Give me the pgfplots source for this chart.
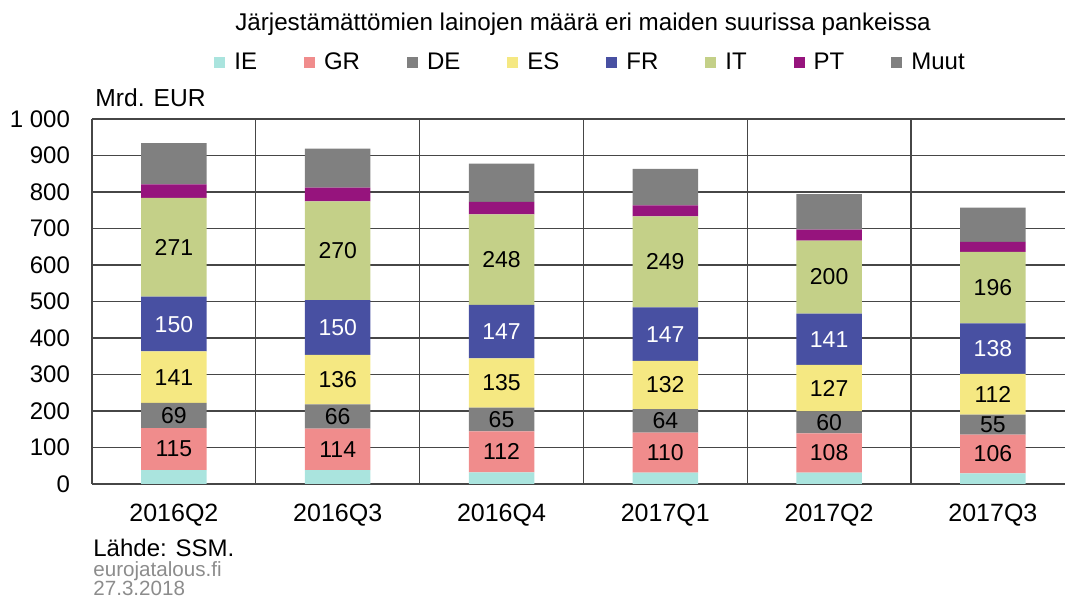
\documentclass[border=0pt]{standalone}
\usepackage{pgfplots}
\pgfplotsset{compat=1.18}
\usepackage{pgfplotstable}
\usepackage{fontspec}
\setmainfont{Liberation Sans}
\definecolor{cIE}{RGB}{170,228,222}
\definecolor{cGR}{RGB}{240,140,140}
\definecolor{cDE}{RGB}{128,128,128}
\definecolor{cES}{RGB}{245,232,130}
\definecolor{cFR}{RGB}{72,80,162}
\definecolor{cIT}{RGB}{196,208,136}
\definecolor{cPT}{RGB}{150,20,125}
\definecolor{cMuut}{RGB}{128,128,128}
\definecolor{gridc}{RGB}{70,70,70}
\pgfplotstableread{
x IE GR DE ES FR IT PT Muut
0 38 115 69 141 150 271 37 113
1 38 114 66 136 150 270 38 107
2 32 112 65 135 147 248 34 105
3 31 110 64 132 147 249 30 100
4 31 108 60 127 141 200 30 97
5 29 106 55 112 138 196 27 94
}\datatable
% label positions (segment centres) for the value labels
\pgfplotstableread{
x y lab
0 95.5 115
0 187.5 69
0 292.5 141
0 648.5 271
1 95 114
1 185 66
1 286 136
1 639 270
2 88 112
2 176.5 65
2 276.5 135
2 615 248
3 86 110
3 173 64
3 271 132
3 608.5 249
4 85 108
4 169 60
4 262.5 127
4 567 200
5 82 106
5 162.5 55
5 246 112
5 538 196
}\blacklabels
\pgfplotstableread{
x y lab
0 438 150
1 429 150
2 417.5 147
3 410.5 147
4 396.5 141
5 371 138
}\whitelabels
\pgfplotsset{
  sq/.style={legend image code/.code={\fill[##1,draw=none] (0pt,-2.75pt) rectangle (5.5pt,2.75pt); \path (8pt,0pt);}},
  common/.style={
    at={(46pt,56.5pt)}, anchor=south west,
    width=486.5pt, height=182.5pt, scale only axis,
    xmin=-0.5, xmax=5.44, ymin=0, ymax=1000,
  }
}
\begin{document}
\begin{tikzpicture}
\useasboundingbox (0,0) rectangle (532.5pt,298.5pt);
\begin{axis}[
  common,
  ybar stacked, bar width=0.4,
  ytick={0,100,...,1000},
  xtick={0,1,2,3,4,5},
  xticklabels={2016Q2,2016Q3,2016Q4,2017Q1,2017Q2,2017Q3},
  minor xtick={0.5,1.5,2.5,3.5,4.5},
  xminorgrids, ymajorgrids,
  major grid style={draw=gridc, line width=0.6pt},
  minor grid style={draw=gridc, line width=0.6pt},
  axis lines*=left,
  axis line style={draw=gridc, line width=0.7pt},
  major tick length=0pt, minor tick length=0pt,
  /pgf/number format/assume math mode=true,
  /pgf/number format/1000 sep={\ },
  yticklabel style={font=\fontsize{12}{14}\selectfont, xshift=-7.5pt},
  xticklabel style={font=\fontsize{12.5}{15}\selectfont, yshift=-6.5pt},
  legend columns=8,
  legend style={at={(0.5134,1.155)}, anchor=center, draw=none, fill=none,
    font=\fontsize{12}{14}\selectfont,
    /tikz/every even column/.append style={column sep=21.5pt}},
]
\addplot[fill=cIE, draw=none, sq] table[x=x, y=IE] {\datatable};
\addlegendentry{IE}
\addplot[fill=cGR, draw=none, sq] table[x=x, y=GR] {\datatable};
\addlegendentry{GR}
\addplot[fill=cDE, draw=none, sq] table[x=x, y=DE] {\datatable};
\addlegendentry{DE}
\addplot[fill=cES, draw=none, sq] table[x=x, y=ES] {\datatable};
\addlegendentry{ES}
\addplot[fill=cFR, draw=none, sq] table[x=x, y=FR] {\datatable};
\addlegendentry{FR}
\addplot[fill=cIT, draw=none, sq] table[x=x, y=IT] {\datatable};
\addlegendentry{IT}
\addplot[fill=cPT, draw=none, sq] table[x=x, y=PT] {\datatable};
\addlegendentry{PT}
\addplot[fill=cMuut, draw=none, sq] table[x=x, y=Muut] {\datatable};
\addlegendentry{Muut}
\end{axis}
\begin{axis}[common, hide axis]
\addplot[draw=none, mark=none, nodes near coords={\pgfplotspointmeta},
  point meta=explicit symbolic,
  nodes near coords style={anchor=center, text=black, font=\fontsize{11.5}{13}\selectfont}]
  table[x=x, y=y, meta=lab] {\blacklabels};
\addplot[draw=none, mark=none, nodes near coords={\pgfplotspointmeta},
  point meta=explicit symbolic,
  nodes near coords style={anchor=center, text=white, font=\fontsize{11.5}{13}\selectfont}]
  table[x=x, y=y, meta=lab] {\whitelabels};
\end{axis}
\node[anchor=base, font=\fontsize{12.1}{14}\selectfont] at (291.5pt,283pt)
  {Järjestämättömien lainojen määrä eri maiden suurissa pankeissa};
\node[anchor=base west, inner sep=0pt, font=\fontsize{12.3}{14}\selectfont] at (47.5pt,245pt) {Mrd. EUR};
\node[anchor=base west, inner sep=0pt, font=\fontsize{12}{14}\selectfont] at (46.5pt,20pt) {Lähde: SSM.};
\node[anchor=base west, inner sep=0pt, text=black!45, font=\fontsize{10.3}{12}\selectfont] at (46.5pt,10pt) {eurojatalous.fi};
\node[anchor=base west, inner sep=0pt, text=black!45, font=\fontsize{10.3}{12}\selectfont] at (46.5pt,0.8pt) {27.3.2018};
\end{tikzpicture}
\end{document}
